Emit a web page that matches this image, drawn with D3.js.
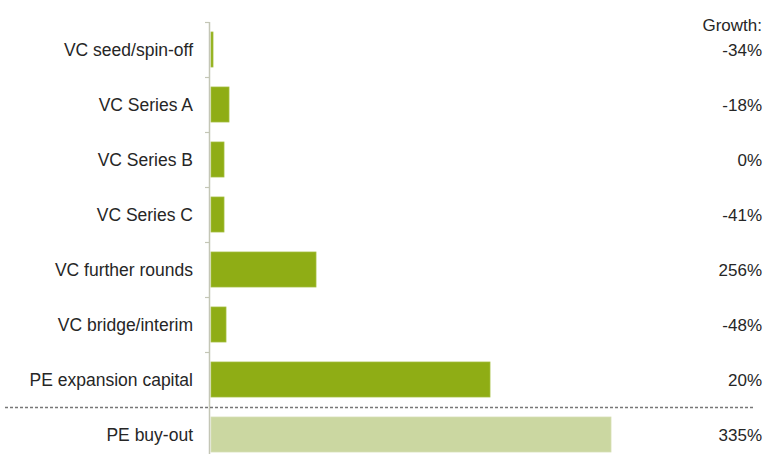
<!DOCTYPE html>
<html>
<head>
<meta charset="utf-8">
<script src="https://cdn.jsdelivr.net/npm/d3@7"></script>
<style>
  html, body { margin: 0; padding: 0; background: #fff; }
  svg { display: block; }
  text { font-family: "Liberation Sans", Arial, sans-serif; fill: #262626; }
</style>
</head>
<body>
<svg id="chart" width="766" height="454"></svg>
<script>
const categories = ["VC seed/spin-off", "VC Series A", "VC Series B", "VC Series C",
  "VC further rounds", "VC bridge/interim", "PE expansion capital", "PE buy-out"];
const values = [2, 18, 13, 13, 105, 15, 279, 400];
const growth = ["-34%", "-18%", "0%", "-41%", "256%", "-48%", "20%", "335%"];
const highlight = [false, false, false, false, false, false, false, true];
const growthTitle = "Growth:";

const svg = d3.select("#chart");
const x = d3.scaleLinear().domain([0, 500]).range([211, 711]);
const y = d3.scaleBand().domain(categories).range([22, 462])
  .paddingInner(0.364).paddingOuter(0.182);
const step = y.step();
const axisX = 209.5;

// bars
svg.selectAll("rect.bar").data(categories).join("rect")
  .attr("class", "bar")
  .attr("x", x(0))
  .attr("y", d => y(d))
  .attr("width", (d, i) => x(values[i]) - x(0))
  .attr("height", y.bandwidth())
  .attr("fill", (d, i) => highlight[i] ? "#cbd7a1" : "#8fad15")
  .attr("stroke", (d, i) => highlight[i] ? "#d6dfb5" : "#a3bd3c")
  .attr("stroke-width", 0.8);

// axis line + ticks
svg.append("line")
  .attr("x1", axisX).attr("x2", axisX)
  .attr("y1", 22).attr("y2", 462)
  .attr("stroke", "#c4c6b6").attr("stroke-width", 1.5);
svg.selectAll("line.tick").data(categories.slice(0, 7)).join("line")
  .attr("class", "tick")
  .attr("x1", 205).attr("x2", axisX)
  .attr("y1", d => Math.round(y(d) - y.paddingInner() * step / 2) + 0.5)
  .attr("y2", d => Math.round(y(d) - y.paddingInner() * step / 2) + 0.5)
  .attr("stroke", "#c4c6b6").attr("stroke-width", 1.2);

// category labels
svg.selectAll("text.cat").data(categories).join("text")
  .attr("class", "cat")
  .attr("x", 193)
  .attr("y", d => y(d) + y.bandwidth() / 2)
  .attr("dy", "0.36em")
  .attr("text-anchor", "end")
  .style("font-size", "17.5px")
  .text(d => d);

// growth labels
svg.append("text")
  .attr("x", 762).attr("y", 25).attr("dy", "0.36em")
  .attr("text-anchor", "end").style("font-size", "17px")
  .text(growthTitle);
svg.selectAll("text.gr").data(categories).join("text")
  .attr("class", "gr")
  .attr("x", 762)
  .attr("y", d => y(d) + y.bandwidth() / 2)
  .attr("dy", "0.36em")
  .attr("text-anchor", "end")
  .style("font-size", "17px")
  .text((d, i) => growth[i]);

// dotted separator between PE expansion capital and PE buy-out
const sepY = Math.round(y("PE buy-out") - y.paddingInner() * step / 2) + 0.5;
svg.append("line")
  .attr("x1", 5).attr("x2", 754)
  .attr("y1", sepY).attr("y2", sepY)
  .attr("stroke", "#777").attr("stroke-width", 1.3)
  .attr("stroke-dasharray", "3,2");
</script>
</body>
</html>
